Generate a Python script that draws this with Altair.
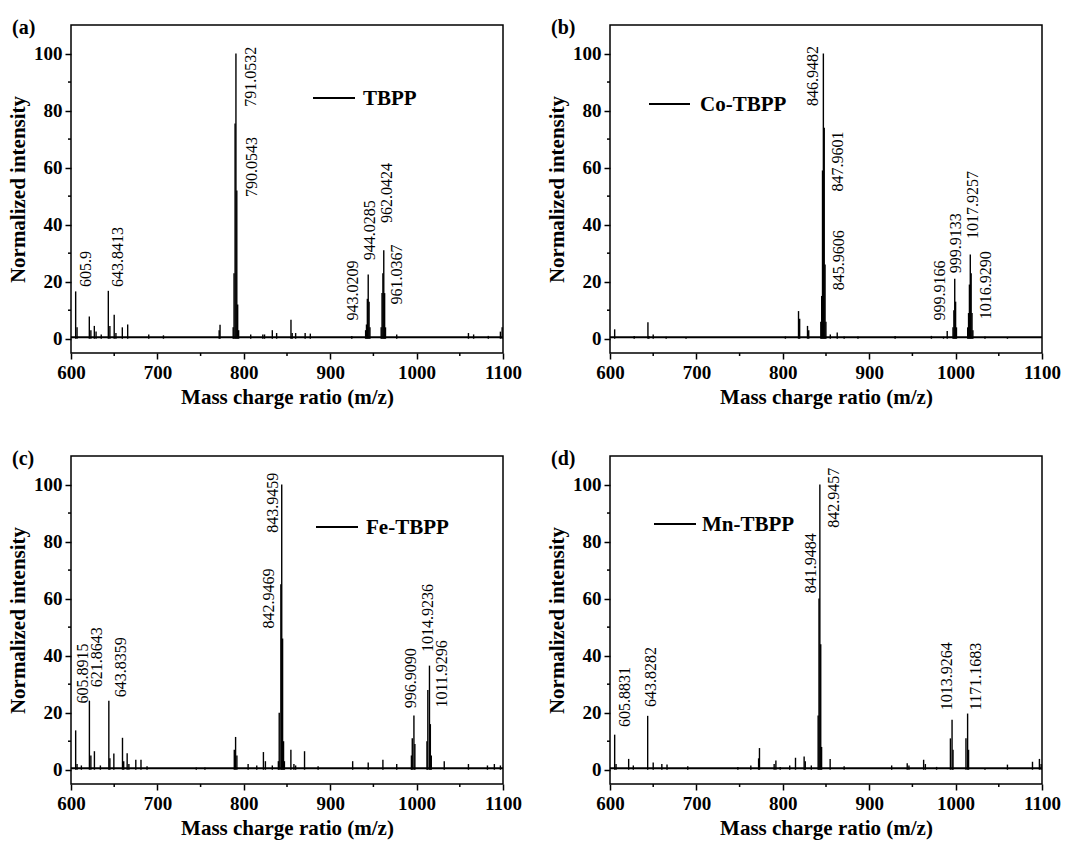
import altair as alt
import pandas as pd

FONT = "Liberation Serif"
W, H = 432, 328

# ---------------- data ----------------
# (a) TBPP
a_mz = [605.4, 607, 621.2, 623, 627, 629, 635, 643.2, 645, 650, 652, 659.4, 665.6, 690, 707,
        771.5, 772.5, 787.7, 788.7, 789.9, 790.9, 791.9, 792.9, 794, 808, 822, 824, 833, 838,
        854.6, 856, 860, 871, 877, 925, 941, 942, 943, 944, 945, 946, 959, 960, 961, 962, 963,
        964, 977, 1060, 1066, 1083, 1097, 1099]
a_int = [16.6, 4, 7.8, 3, 4.5, 2.5, 1.5, 16.8, 4.5, 8.4, 2, 4, 5, 1.5, 1.2,
         3, 4.9, 4, 23, 75.5, 100, 52, 12, 3, 1.5, 1.5, 1.5, 3, 2,
         6.7, 2, 2, 2, 1.8, 1, 3, 5, 14, 22.5, 13, 4, 4, 16, 23, 31, 16,
         4, 1.5, 2, 1.5, 1, 2.5, 4]
a_lab = ["605.9", "643.8413", "791.0532", "790.0543", "943.0209", "944.0285", "962.0424", "961.0367"]
a_lab_x = [617.4, 654.8, 808, 809.1, 926.8, 946.1, 965.4, 976.9]
a_lab_y = [18.1, 18.1, 81.3, 49.7, 6.4, 27.5, 40.6, 12.0]

# (b) Co-TBPP
b_mz = [605.4, 628, 643.9, 645, 650, 665, 688, 803, 818.2, 819.5, 828.6, 830, 844, 845, 845.96,
        846.95, 847.96, 848.9, 849.9, 855, 863, 871, 887, 930, 972, 986, 990.3, 997, 998, 999,
        1000, 1001, 1014, 1015, 1016, 1017, 1018, 1019, 1020, 1034, 1060]
b_int = [3.3, 1, 5.8, 1, 1.5, 0.7, 0.5, 0.8, 9.7, 7, 4.5, 3, 6, 15, 59,
         100, 74, 26, 6, 1.5, 2.2, 0.8, 0.8, 1, 1, 0.7, 2.7, 4, 10, 21,
         13, 4, 4, 9, 19, 29.5, 23, 9, 3, 0.8, 0.5]
b_lab = ["846.9482", "847.9601", "845.9606", "999.9166", "999.9133", "1017.9257", "1016.9290"]
b_lab_x = [835.2, 864, 865.2, 981.8, 999.9, 1020.3, 1035.7]
b_lab_y = [81.6, 51.6, 17, 6.4, 23, 35, 6.8]

# (c) Fe-TBPP
c_mz = [605.4, 607, 612, 621.3, 623, 627.1, 634, 643.8, 645, 649.6, 659.6, 661, 665, 667, 675,
        681, 688, 745, 755, 789, 790.5, 792, 805, 815, 822.7, 825, 833, 840, 841, 842.9, 843.9,
        844.9, 846, 847, 854.5, 858, 860, 870.3, 886, 926, 944, 961, 977, 994, 995, 996.9, 998,
        1012, 1013, 1014.9, 1015.9, 1017, 1032, 1060, 1082, 1090, 1097]
c_int = [13.8, 2, 1.5, 24.2, 5, 6.5, 1.5, 24.2, 4, 5.7, 11.2, 3, 5.8, 2, 3.5,
         3.5, 1.2, 0.8, 0.8, 7, 11.5, 5, 2, 1.5, 6.2, 3, 1.5, 3, 20, 65, 100,
         46, 10, 3, 7, 2, 1.5, 6.5, 1.2, 3, 2.5, 3.5, 2, 5, 11, 19, 9,
         10, 28, 36.5, 16, 5, 3, 2, 1.5, 2, 1.5]
c_lab = ["605.8915", "621.8643", "643.8359", "842.9469", "843.9459", "996.9090", "1014.9236", "1011.9296"]
c_lab_x = [613.9, 630.6, 657.3, 829.7, 833.5, 993.5, 1013.6, 1029.1]
c_lab_y = [23.2, 28.9, 25.4, 49.5, 83.1, 21.6, 41.3, 21.8]

# (d) Mn-TBPP
d_mz = [605.4, 607, 621.6, 627, 643.6, 650, 660, 666, 690, 748, 763, 772, 773, 790, 792, 797,
        808, 814.7, 824.7, 826, 833, 840.9, 841.9, 842.9, 843.9, 844.9, 854.8, 871, 926, 944,
        946, 963, 965, 978, 994, 995.9, 997, 1012, 1013.9, 1015, 1034, 1060, 1089, 1097, 1099]
d_int = [12.3, 2, 3.8, 1.5, 18.9, 2.5, 2, 1.8, 1.2, 1, 1.5, 4, 7.6, 2, 3.2, 1,
         1.5, 4.2, 4.6, 3, 1.5, 19, 60, 100, 44, 8, 3.8, 1.2, 1.5, 2.3,
         1.5, 3.5, 2, 1, 11, 17.5, 7, 11, 19.7, 7, 0.5, 1.8, 2.8, 3.8, 2]
d_lab = ["605.8831", "643.8282", "841.9484", "842.9457", "1013.9264", "1171.1683"]
d_lab_x = [617.4, 647.9, 832.8, 859.8, 990, 1023.9]
d_lab_y = [15, 22, 61.9, 84.8, 20.9, 20.9]

names = ["TBPP", "Co-TBPP", "Fe-TBPP", "Mn-TBPP"]
letters = ["(a)", "(b)", "(c)", "(d)"]

x_major = [600, 700, 800, 900, 1000, 1100]
x_minor = [650, 750, 850, 950, 1050]
y_major = [0, 20, 40, 60, 80, 100]
y_minor = [10, 30, 50, 70, 90]
baseline_level = 0.5

# legend placement (pixels, relative to plot area): line x1, x2, y, text x
legend_px = [(242, 284, 73, 292), (39, 80, 79, 90), (245, 287, 71, 295), (44, 86, 68, 92)]


def panel(mz, inten, lab, lab_x, lab_y, name, letter, lp):
    xs = alt.Scale(domain=[600, 1100], nice=False, zero=False)
    ys = alt.Scale(domain=[-5, 110], nice=False, zero=False)
    xaxis = alt.Axis(values=x_major, title="Mass charge ratio (m/z)", format="d",
                     labelFlush=False, labelPadding=4, titleY=50, titleBaseline="alphabetic")
    yaxis = alt.Axis(values=y_major, title="Normalized intensity", format="d",
                     labelFlush=False, labelPadding=3, titleX=-47, titleBaseline="alphabetic")

    sticks = alt.Chart(pd.DataFrame({"mz": mz, "i": inten})).mark_rule(
        color="black", strokeWidth=1.4).encode(
        x=alt.X("mz:Q", scale=xs, axis=xaxis),
        y=alt.Y("i:Q", scale=ys, axis=yaxis),
        y2=alt.datum(0))

    base = alt.Chart(pd.DataFrame({"mz": [600], "x2": [1100], "i": [baseline_level]})).mark_rule(
        color="black", strokeWidth=2).encode(
        x=alt.X("mz:Q", scale=xs, axis=xaxis), x2="x2:Q",
        y=alt.Y("i:Q", scale=ys, axis=yaxis))

    xminor = alt.Chart(pd.DataFrame({"mz": x_minor})).mark_rule(
        color="black", strokeWidth=1.5).encode(
        x=alt.X("mz:Q", scale=xs, axis=xaxis), y=alt.value(H), y2=alt.value(H + 3))
    yminor = alt.Chart(pd.DataFrame({"i": y_minor})).mark_rule(
        color="black", strokeWidth=1.5).encode(
        y=alt.Y("i:Q", scale=ys, axis=yaxis), x=alt.value(0), x2=alt.value(-3))

    labels = alt.Chart(pd.DataFrame({"t": lab, "mz": lab_x, "i": lab_y})).mark_text(
        angle=270, align="left", baseline="middle", font=FONT, fontSize=16, color="black").encode(
        x=alt.X("mz:Q", scale=xs, axis=xaxis),
        y=alt.Y("i:Q", scale=ys, axis=yaxis),
        text="t:N")

    nm = pd.DataFrame({"name": [name], "letter": [letter]})
    leg_line = alt.Chart(nm).mark_rule(color="black", strokeWidth=2).encode(
        x=alt.value(lp[0]), x2=alt.value(lp[1]), y=alt.value(lp[2]))
    leg_text = alt.Chart(nm).mark_text(
        align="left", baseline="middle", font=FONT, fontSize=21, fontWeight="bold", color="black").encode(
        x=alt.value(lp[3]), y=alt.value(lp[2] + 1), text="name:N")
    let_text = alt.Chart(nm).mark_text(
        align="left", baseline="top", font=FONT, fontSize=20, fontWeight="bold", color="black").encode(
        x=alt.value(-59), y=alt.value(-7), text="letter:N")

    return alt.layer(sticks, base, xminor, yminor, labels, leg_line, leg_text, let_text).properties(
        width=W, height=H)


panels = [
    panel(a_mz, a_int, a_lab, a_lab_x, a_lab_y, names[0], letters[0], legend_px[0]),
    panel(b_mz, b_int, b_lab, b_lab_x, b_lab_y, names[1], letters[1], legend_px[1]),
    panel(c_mz, c_int, c_lab, c_lab_x, c_lab_y, names[2], letters[2], legend_px[2]),
    panel(d_mz, d_int, d_lab, d_lab_x, d_lab_y, names[3], letters[3], legend_px[3]),
]

chart = alt.concat(*panels, columns=2, spacing={"row": 103, "column": 107}, bounds="flush").properties(
    padding={"left": 6, "top": 17, "right": 5, "bottom": 5},
    background="white",
).configure_view(
    stroke="black", strokeWidth=1.5
).configure_axis(
    domain=False, grid=False, ticks=True, tickColor="black", tickWidth=1.5, tickSize=6,
    labelFont=FONT, labelFontWeight="bold", labelFontSize=19, labelColor="black",
    titleFont=FONT, titleFontWeight="bold", titleFontSize=21, titleColor="black",
)

chart.save("out.html", embed_options={"renderer": "svg", "actions": False})
